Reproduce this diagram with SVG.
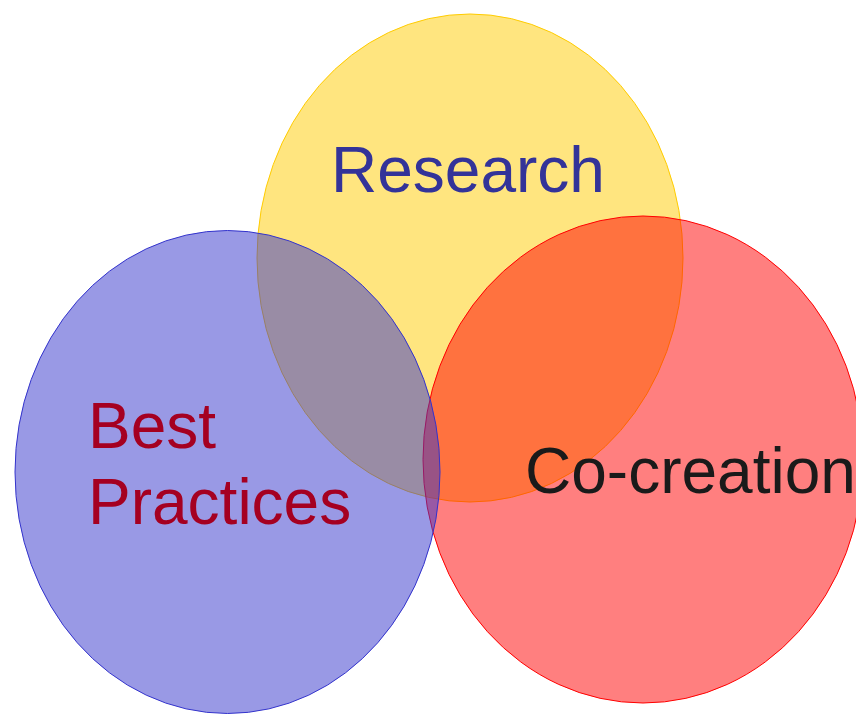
<svg xmlns="http://www.w3.org/2000/svg" width="856" height="714" viewBox="0 0 856 714">
<style>
.lbl{font-family:"Liberation Sans",Arial,sans-serif;font-size:64px}
</style>
<rect width="856" height="714" fill="#ffffff"/>
<g id="research">
<ellipse cx="470" cy="258" rx="213" ry="244" fill="#FFCC00" fill-opacity="0.5" stroke="#FFCC00" stroke-width="1"/>
<text class="lbl" x="331" y="192" fill="#333399">Research</text>
</g>
<g id="cocreation">
<ellipse cx="643" cy="459.5" rx="220" ry="243.5" fill="#FF0000" fill-opacity="0.5" stroke="#FF0000" stroke-width="1"/>
<text class="lbl" x="525" y="493" fill="#1A1A1A">Co-creation</text>
</g>
<g id="bestpractices">
<ellipse cx="227.5" cy="472" rx="212.5" ry="241.5" fill="#3333CC" fill-opacity="0.5" stroke="#3333CC" stroke-width="1"/>
<text class="lbl" fill="#A50021"><tspan x="88" y="448">Best</tspan><tspan x="88" y="524">Practices</tspan></text>
</g>
<g id="connectors"/>
</svg>
